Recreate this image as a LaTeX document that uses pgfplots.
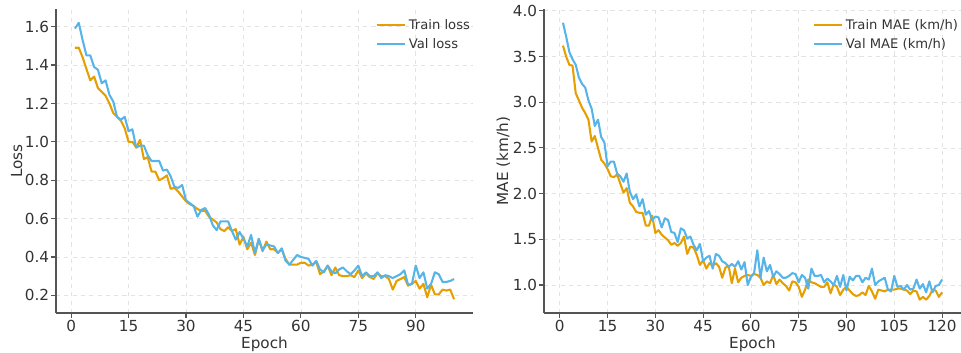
\documentclass[border=0pt]{standalone}
\usepackage{fontspec}
\setmainfont{DejaVu Sans}
\usepackage{pgfplots}
\usepackage{pgfplotstable}
\pgfplotsset{compat=1.18}
\definecolor{ctrain}{HTML}{E69F00}
\definecolor{cval}{HTML}{56B4E9}
\definecolor{spine}{HTML}{555555}
\definecolor{txt}{HTML}{333333}
\definecolor{gridc}{HTML}{E3E3E3}

\pgfplotstableread{
ep train val
1 1.49 1.59
2 1.49 1.62
3 1.44 1.53
4 1.38 1.45
5 1.32 1.45
6 1.34 1.39
7 1.28 1.375
8 1.26 1.305
9 1.24 1.32
10 1.20 1.245
11 1.15 1.21
12 1.13 1.13
13 1.11 1.115
14 1.07 1.13
15 1.00 1.055
16 1.00 1.065
17 0.97 0.97
18 1.01 0.98
19 0.91 0.98
20 0.92 0.93
21 0.845 0.90
22 0.845 0.90
23 0.80 0.90
24 0.81 0.85
25 0.825 0.855
26 0.755 0.82
27 0.76 0.765
28 0.74 0.76
29 0.715 0.775
30 0.69 0.695
31 0.675 0.68
32 0.665 0.665
33 0.65 0.61
34 0.64 0.645
35 0.64 0.655
36 0.61 0.62
37 0.595 0.565
38 0.58 0.54
39 0.545 0.585
40 0.535 0.585
41 0.555 0.585
42 0.535 0.535
43 0.545 0.49
44 0.465 0.53
45 0.505 0.495
46 0.44 0.455
47 0.475 0.515
48 0.41 0.42
49 0.49 0.495
50 0.43 0.435
51 0.48 0.465
52 0.44 0.46
53 0.44 0.455
54 0.42 0.42
55 0.44 0.445
56 0.39 0.38
57 0.36 0.36
58 0.36 0.385
59 0.36 0.41
60 0.37 0.40
61 0.37 0.395
62 0.355 0.39
63 0.36 0.355
64 0.375 0.38
65 0.31 0.335
66 0.325 0.32
67 0.355 0.355
68 0.305 0.325
69 0.345 0.315
70 0.305 0.335
71 0.30 0.345
72 0.30 0.325
73 0.305 0.31
74 0.295 0.33
75 0.33 0.355
76 0.29 0.30
77 0.315 0.32
78 0.295 0.30
79 0.285 0.30
80 0.315 0.32
81 0.30 0.29
82 0.30 0.305
83 0.285 0.30
84 0.23 0.29
85 0.275 0.30
86 0.285 0.31
87 0.295 0.33
88 0.25 0.255
89 0.26 0.26
90 0.275 0.355
91 0.235 0.29
92 0.26 0.32
93 0.19 0.235
94 0.255 0.26
95 0.205 0.32
96 0.205 0.31
97 0.23 0.27
98 0.225 0.27
99 0.23 0.275
100 0.18 0.285
}\losstable

\pgfplotstableread{
ep train val
1 3.62 3.87
2 3.50 3.72
3 3.41 3.55
4 3.40 3.47
5 3.10 3.41
6 3.02 3.27
7 2.94 3.20
8 2.88 3.16
9 2.81 3.02
10 2.57 2.93
11 2.63 2.74
12 2.50 2.81
13 2.37 2.62
14 2.33 2.56
15 2.27 2.30
16 2.19 2.35
17 2.18 2.35
18 2.21 2.22
19 2.11 2.19
20 2.01 2.13
21 2.06 2.22
22 1.90 2.02
23 1.86 1.94
24 1.80 1.99
25 1.79 1.86
26 1.79 1.94
27 1.65 1.77
28 1.65 1.81
29 1.76 1.71
30 1.57 1.75
31 1.60 1.74
32 1.55 1.63
33 1.52 1.73
34 1.49 1.71
35 1.44 1.58
36 1.46 1.57
37 1.43 1.47
38 1.46 1.62
39 1.53 1.60
40 1.34 1.51
41 1.42 1.53
42 1.41 1.44
43 1.33 1.38
44 1.22 1.45
45 1.27 1.26
46 1.18 1.30
47 1.24 1.32
48 1.21 1.18
49 1.24 1.34
50 1.20 1.32
51 1.08 1.26
52 1.19 1.24
53 1.21 1.20
54 1.02 1.23
55 1.18 1.20
56 1.03 1.26
57 1.08 1.17
58 1.10 1.25
59 1.11 1.00
60 1.10 1.09
61 1.12 1.13
62 1.11 1.38
63 1.08 1.08
64 1.00 1.30
65 1.04 1.15
66 1.02 1.22
67 1.11 1.09
68 1.01 1.15
69 1.06 1.12
70 1.02 1.08
71 0.99 1.08
72 0.94 1.10
73 1.04 1.13
74 1.03 1.12
75 0.98 1.03
76 0.87 1.11
77 0.95 1.08
78 1.06 0.96
79 1.03 1.18
80 1.02 1.10
81 1.00 1.10
82 0.98 1.11
83 0.98 1.03
84 1.03 1.07
85 0.91 1.04
86 1.01 1.00
87 0.98 1.10
88 0.89 0.98
89 0.95 1.11
90 0.98 0.94
91 0.94 1.09
92 0.90 1.05
93 0.88 1.10
94 0.89 1.10
95 0.92 1.03
96 0.89 1.08
97 0.99 1.06
98 0.93 1.18
99 0.85 1.00
100 0.95 1.04
101 0.94 1.06
102 0.93 1.08
103 0.95 0.95
104 0.95 0.93
105 0.95 1.10
106 0.96 0.98
107 0.96 0.99
108 0.95 0.95
109 0.94 1.00
110 0.90 0.95
111 0.94 0.96
112 0.93 1.06
113 0.84 0.96
114 0.87 1.01
115 0.84 0.92
116 0.88 1.04
117 0.95 0.92
118 0.94 0.99
119 0.87 1.00
120 0.92 1.06
}\maetable

\pgfplotsset{
  mystyle/.style={
    scale only axis,
    width=4.17in, height=3.04in,
    axis x line*=bottom, axis y line*=left,
    axis line style={spine, line width=0.9pt},
    tick align=outside,
    major tick length=3.5pt,
    tick style={spine, line width=0.8pt},
    grid=major,
    major grid style={gridc, dashed, line width=0.5pt},
    ticklabel style={font=\fontsize{11}{13}\selectfont, text=txt},
    xticklabel style={yshift=2pt},
    yticklabel style={xshift=2pt},
    xlabel near ticks, ylabel near ticks,
    xlabel style={font=\fontsize{11}{13}\selectfont, text=txt, yshift=3pt},
    ylabel style={font=\fontsize{11}{13}\selectfont, text=txt, yshift=-5pt},
    /pgf/number format/assume math mode=true,
    legend style={draw=none, fill=none, at={(1,0.985)}, anchor=north east,
      xshift=3pt,
      font=\fontsize{9.5}{11}\selectfont, text=txt, row sep=1pt},
    legend cell align=left,
    legend image code/.code={\draw[##1] (0cm,0cm) -- (0.72cm,0cm);},
    every axis plot/.append style={line width=1.5pt, line join=round},
    xlabel={Epoch},
  }
}

\begin{document}
\begin{tikzpicture}
\path[use as bounding box] (0,0) rectangle (9.61in,3.53in);
\begin{axis}[mystyle,
  at={(0.56in,0.40in)}, anchor=south west,
  xmin=-3.95, xmax=104.95, ymin=0.108, ymax=1.692,
  xtick={0,15,...,90},
  ytick={0.2,0.4,...,1.6},
  yticklabel style={/pgf/number format/.cd, fixed, fixed zerofill, precision=1},
  ylabel={Loss},
]
\addplot[ctrain] table[x=ep, y=train] {\losstable};
\addlegendentry{Train loss}
\addplot[cval] table[x=ep, y=val] {\losstable};
\addlegendentry{Val loss}
\end{axis}
\begin{axis}[mystyle,
  at={(5.44in,0.40in)}, anchor=south west,
  xmin=-4.95, xmax=125.95, ymin=0.694, ymax=4.02,
  xtick={0,15,...,120},
  ytick={1.0,1.5,...,4.0},
  yticklabel style={/pgf/number format/.cd, fixed, fixed zerofill, precision=1},
  ylabel={MAE (km/h)},
]
\addplot[ctrain] table[x=ep, y=train] {\maetable};
\addlegendentry{Train MAE (km/h)}
\addplot[cval] table[x=ep, y=val] {\maetable};
\addlegendentry{Val MAE (km/h)}
\end{axis}
\end{tikzpicture}
\end{document}
